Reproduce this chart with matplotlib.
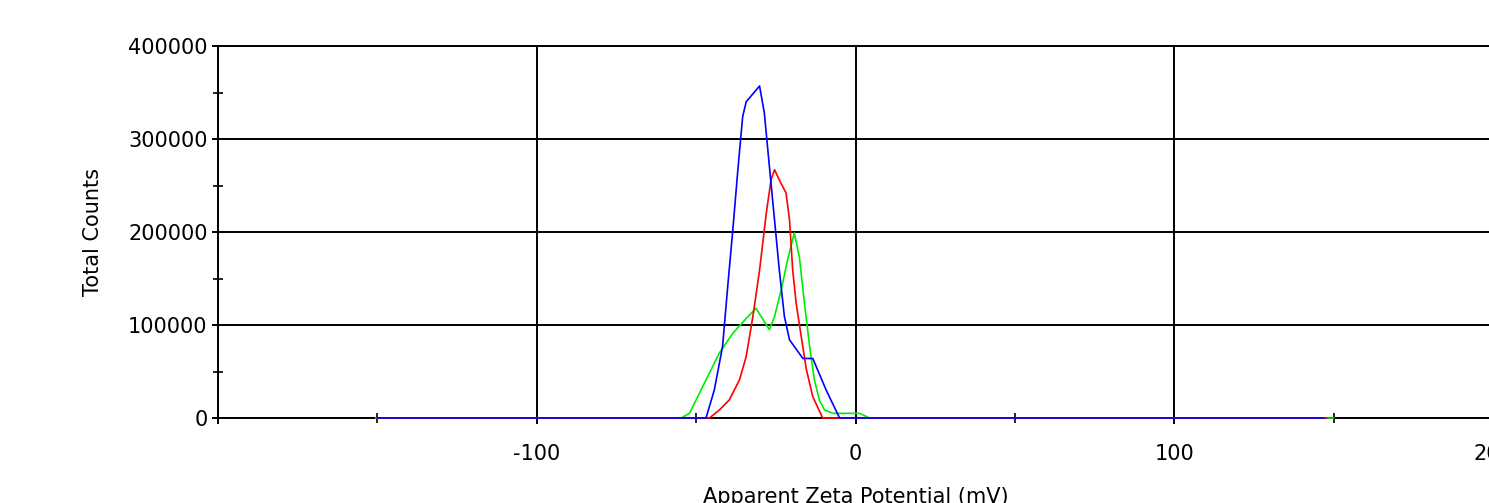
import matplotlib
matplotlib.use('Agg')
import matplotlib.pyplot as plt
from matplotlib.ticker import MultipleLocator, FuncFormatter

# zeta potential distributions
x_green = [-150.5, -54.7, -52.1, -47.9, -42.7, -38.5, -34.3, -31.2, -29.6, -27.0, -25.4, -23.3,
           -21.3, -19.2, -17.6, -16.0, -14.4, -12.9, -11.3, -9.7, -7.1, 1.3, 4.4, 150]
y_green = [0, 0, 5000, 34000, 70000, 91000, 107000, 118000, 109000, 95000, 109000, 138000,
           170000, 199000, 173000, 123000, 77000, 41000, 19000, 8600, 5000, 5000, 0, 0]

x_red = [-150, -45.8, -42.7, -39.6, -36.4, -34.3, -32.2, -30.1, -28.0, -26.5, -25.4, -23.9,
         -21.8, -20.7, -19.7, -18.6, -17.0, -15.4, -13.4, -10.3, 148]
y_red = [0, 0, 8600, 19400, 41000, 66000, 109000, 159000, 220000, 256000, 267000, 256000,
         242000, 213000, 159000, 123000, 87000, 52000, 23000, 0, 0]

x_blue = [-150, -46.9, -44.3, -41.7, -40.1, -38.5, -36.9, -35.4, -34.3, -30.1, -28.6, -27.0,
          -25.4, -23.9, -22.3, -20.7, -16.5, -13.4, -9.2, -5.0, 147]
y_blue = [0, 0, 30000, 77000, 141000, 202000, 267000, 324000, 340000, 357000, 328000, 270000,
          213000, 159000, 109000, 84000, 64000, 64000, 30000, 0, 0]

plt.rcParams['font.family'] = ['DejaVu Sans']
plt.rcParams['axes.unicode_minus'] = False

W, H = 1489, 503
fig = plt.figure(figsize=(W / 100, H / 100), dpi=100)
ax = fig.add_axes([218 / W, 1 - 418 / H, (1493 - 218) / W, (418 - 46) / H])

# lines sit on top of the axis, like the original
ax.plot(x_green, y_green, color='#00ee00', linewidth=1.2, zorder=3, clip_on=False)
ax.plot(x_red, y_red, color='#ff0000', linewidth=1.2, zorder=3, clip_on=False)
ax.plot(x_blue, y_blue, color='#0000ff', linewidth=1.2, zorder=3, clip_on=False)

ax.set_xlim(-200, 200)
ax.set_ylim(0, 400000)
ax.xaxis.set_major_locator(MultipleLocator(100))
ax.xaxis.set_minor_locator(MultipleLocator(50))
ax.xaxis.set_major_formatter(FuncFormatter(lambda v, p: '' if v <= -200 else '%d' % v))
ax.yaxis.set_major_locator(MultipleLocator(100000))
ax.yaxis.set_minor_locator(MultipleLocator(50000))
ax.grid(True, which='major', color='black', linewidth=1.4)
ax.set_axisbelow(True)

for s in ax.spines.values():
    s.set_linewidth(1.4)

ax.tick_params(which='major', direction='out', length=4.5, width=1.4, labelsize=15)
ax.tick_params(axis='x', which='major', pad=14)
ax.tick_params(axis='y', which='major', pad=3)
ax.tick_params(which='minor', direction='inout', length=7, width=1.2)

ax.set_ylabel('Total Counts', fontsize=15)
ax.yaxis.set_label_coords(-0.09, 0.5)
ax.set_xlabel('Apparent Zeta Potential (mV)', fontsize=15, labelpad=17)

fig.savefig('out.png', dpi=100)
